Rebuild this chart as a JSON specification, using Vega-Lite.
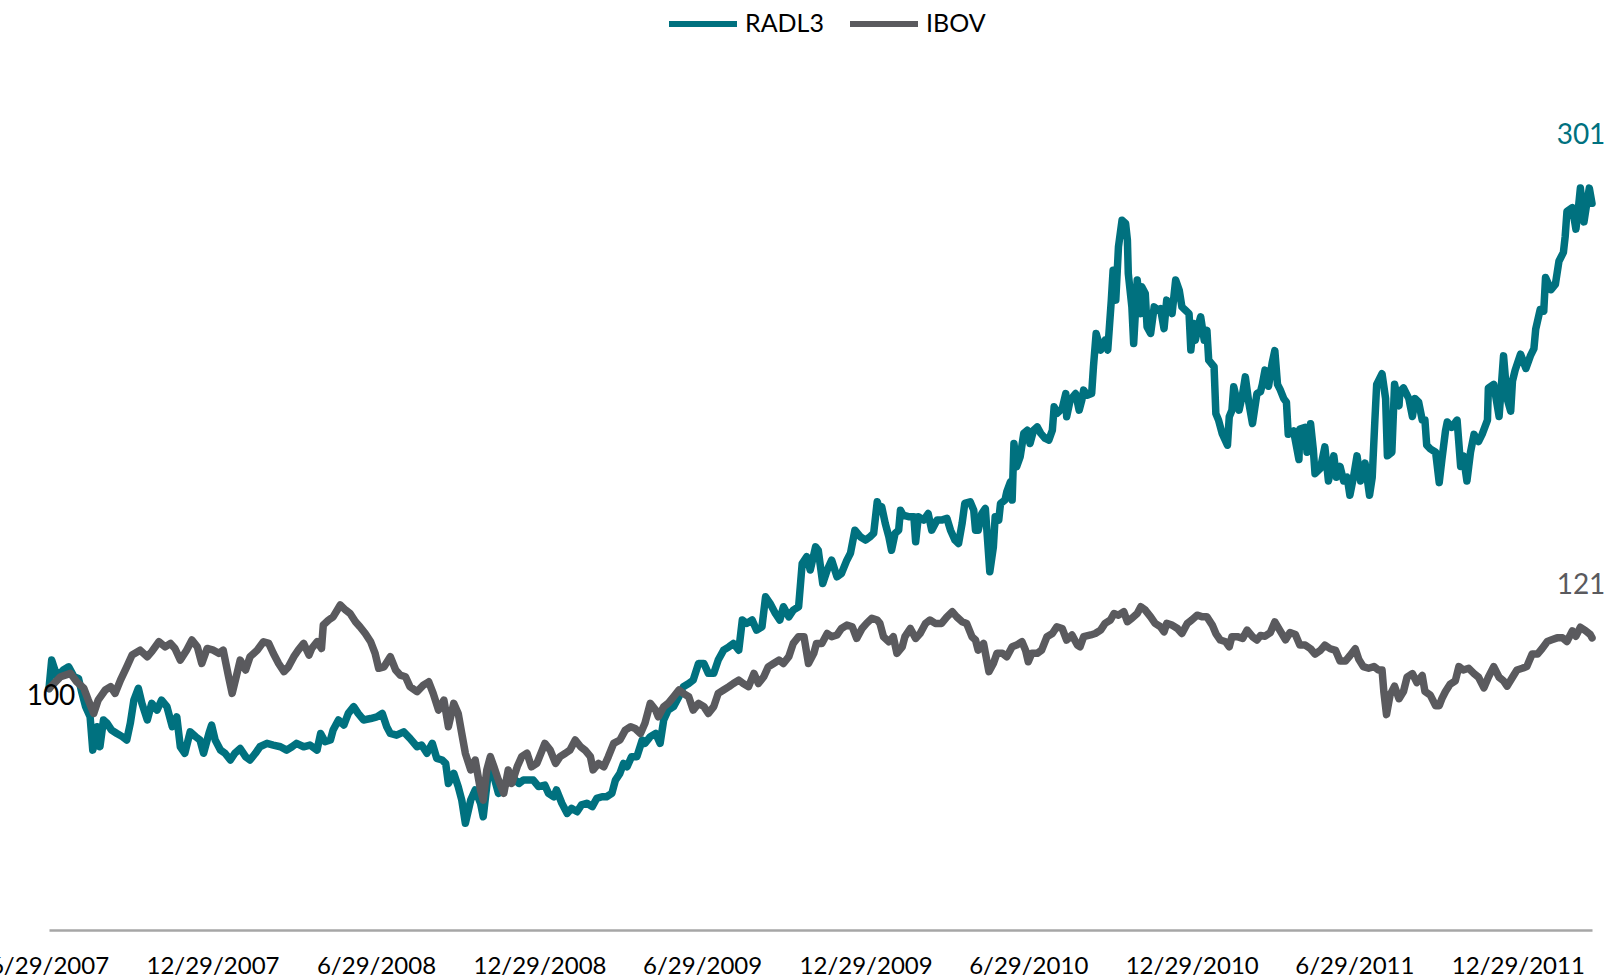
{
  "$schema": "https://vega.github.io/schema/vega-lite/v6.json",
  "autosize": {"type": "none"},
  "padding": {"left": 49, "top": 85, "right": 16, "bottom": 49},
  "width": 1543,
  "height": 845,
  "background": "white",
  "config": {"view": {"stroke": null}, "font": "Lato"},
  "datasets": {
    "radl3": [
      {"date":"2007-06-29","value":100},{"date":"2007-07-02","value":111.8},{"date":"2007-07-08","value":104.9},{"date":"2007-07-15","value":107.7},{"date":"2007-07-21","value":109.0},{"date":"2007-07-27","value":104.9},{"date":"2007-08-01","value":104.2},{"date":"2007-08-05","value":98.0},{"date":"2007-08-09","value":92.5},{"date":"2007-08-14","value":88.3},{"date":"2007-08-17","value":74.5},{"date":"2007-08-22","value":84.2},{"date":"2007-08-25","value":75.9},{"date":"2007-08-29","value":87.0},{"date":"2007-09-02","value":85.6},{"date":"2007-09-07","value":82.8},{"date":"2007-09-13","value":81.4},{"date":"2007-09-19","value":80.1},{"date":"2007-09-24","value":78.7},{"date":"2007-09-28","value":85.6},{"date":"2007-10-02","value":95.2},{"date":"2007-10-07","value":100.1},{"date":"2007-10-11","value":93.9},{"date":"2007-10-17","value":87.0},{"date":"2007-10-22","value":93.9},{"date":"2007-10-28","value":91.1},{"date":"2007-11-02","value":95.2},{"date":"2007-11-08","value":92.5},{"date":"2007-11-14","value":84.2},{"date":"2007-11-19","value":88.3},{"date":"2007-11-23","value":75.9},{"date":"2007-11-28","value":73.2},{"date":"2007-12-04","value":82.1},{"date":"2007-12-10","value":80.1},{"date":"2007-12-15","value":78.7},{"date":"2007-12-19","value":73.2},{"date":"2007-12-25","value":81.4},{"date":"2007-12-28","value":84.9},
      {"date":"2008-01-01","value":78.7},{"date":"2008-01-07","value":74.5},{"date":"2008-01-12","value":73.2},{"date":"2008-01-18","value":70.4},{"date":"2008-01-23","value":73.2},{"date":"2008-01-29","value":75.2},{"date":"2008-02-04","value":71.8},{"date":"2008-02-09","value":70.4},{"date":"2008-02-15","value":73.2},{"date":"2008-02-20","value":75.9},{"date":"2008-02-28","value":77.3},{"date":"2008-03-06","value":76.6},{"date":"2008-03-14","value":75.9},{"date":"2008-03-21","value":74.5},{"date":"2008-03-27","value":75.9},{"date":"2008-04-01","value":77.3},{"date":"2008-04-09","value":75.9},{"date":"2008-04-16","value":76.6},{"date":"2008-04-24","value":74.5},{"date":"2008-04-28","value":81.4},{"date":"2008-05-03","value":78.0},{"date":"2008-05-09","value":78.7},{"date":"2008-05-12","value":82.8},{"date":"2008-05-18","value":87.0},{"date":"2008-05-24","value":84.9},{"date":"2008-05-29","value":89.7},{"date":"2008-06-04","value":92.5},{"date":"2008-06-09","value":89.7},{"date":"2008-06-15","value":87.0},{"date":"2008-06-23","value":87.6},{"date":"2008-06-30","value":88.3},{"date":"2008-07-06","value":89.7},{"date":"2008-07-11","value":84.2},{"date":"2008-07-15","value":81.4},{"date":"2008-07-22","value":80.7},{"date":"2008-07-30","value":82.1},{"date":"2008-08-06","value":79.4},{"date":"2008-08-14","value":75.9},{"date":"2008-08-19","value":76.6},{"date":"2008-08-25","value":73.2},{"date":"2008-08-31","value":77.3},{"date":"2008-09-05","value":71.1},{"date":"2008-09-11","value":70.4},{"date":"2008-09-15","value":69.0},{"date":"2008-09-18","value":60.7},{"date":"2008-09-24","value":64.9},{"date":"2008-09-29","value":59.4},{"date":"2008-10-03","value":53.8},{"date":"2008-10-07","value":44.2},{"date":"2008-10-13","value":53.8},{"date":"2008-10-18","value":58.0},{"date":"2008-10-24","value":52.5},{"date":"2008-10-27","value":46.9},{"date":"2008-11-02","value":66.3},{"date":"2008-11-08","value":63.5},{"date":"2008-11-13","value":56.6},{"date":"2008-11-19","value":60.7},{"date":"2008-11-24","value":62.1},{"date":"2008-11-30","value":62.8},{"date":"2008-12-06","value":60.7},{"date":"2008-12-11","value":62.1},{"date":"2008-12-17","value":62.1},{"date":"2008-12-22","value":62.1},{"date":"2008-12-28","value":59.4},
      {"date":"2009-01-04","value":60.0},{"date":"2009-01-08","value":56.6},{"date":"2009-01-14","value":55.2},{"date":"2009-01-17","value":58.0},{"date":"2009-01-23","value":52.5},{"date":"2009-01-29","value":48.3},{"date":"2009-02-03","value":50.4},{"date":"2009-02-09","value":49.0},{"date":"2009-02-14","value":51.8},{"date":"2009-02-20","value":52.5},{"date":"2009-02-26","value":51.1},{"date":"2009-03-03","value":54.5},{"date":"2009-03-09","value":55.2},{"date":"2009-03-14","value":55.2},{"date":"2009-03-20","value":56.6},{"date":"2009-03-24","value":62.1},{"date":"2009-03-29","value":64.9},{"date":"2009-04-02","value":69.0},{"date":"2009-04-06","value":67.6},{"date":"2009-04-11","value":71.8},{"date":"2009-04-17","value":71.8},{"date":"2009-04-23","value":78.7},{"date":"2009-04-26","value":77.3},{"date":"2009-05-02","value":80.1},{"date":"2009-05-08","value":81.4},{"date":"2009-05-13","value":77.3},{"date":"2009-05-17","value":87.0},{"date":"2009-05-22","value":91.1},{"date":"2009-05-28","value":92.5},{"date":"2009-06-03","value":96.6},{"date":"2009-06-08","value":100.8},{"date":"2009-06-14","value":102.1},{"date":"2009-06-19","value":103.5},{"date":"2009-06-25","value":110.4},{"date":"2009-07-01","value":110.4},{"date":"2009-07-06","value":106.3},{"date":"2009-07-12","value":106.3},{"date":"2009-07-17","value":111.8},{"date":"2009-07-23","value":115.9},{"date":"2009-07-29","value":117.3},{"date":"2009-08-03","value":118.7},{"date":"2009-08-09","value":115.9},{"date":"2009-08-13","value":128.4},{"date":"2009-08-18","value":127.0},{"date":"2009-08-24","value":128.4},{"date":"2009-08-29","value":124.2},{"date":"2009-09-04","value":125.6},{"date":"2009-09-08","value":138.0},{"date":"2009-09-13","value":135.3},{"date":"2009-09-19","value":131.1},{"date":"2009-09-24","value":128.4},{"date":"2009-09-28","value":133.9},{"date":"2009-10-04","value":129.7},{"date":"2009-10-09","value":132.5},{"date":"2009-10-15","value":133.9},{"date":"2009-10-19","value":151.8},{"date":"2009-10-24","value":154.6},{"date":"2009-10-28","value":149.1},{"date":"2009-11-03","value":158.7},{"date":"2009-11-06","value":157.3},{"date":"2009-11-11","value":143.5},{"date":"2009-11-16","value":149.1},{"date":"2009-11-21","value":153.2},{"date":"2009-11-27","value":146.3},{"date":"2009-12-02","value":147.7},{"date":"2009-12-08","value":153.2},{"date":"2009-12-12","value":156.0},{"date":"2009-12-17","value":165.6},{"date":"2009-12-23","value":162.9},{"date":"2009-12-29","value":161.5},
      {"date":"2010-01-03","value":162.9},{"date":"2010-01-07","value":164.3},{"date":"2010-01-11","value":177.4},{"date":"2010-01-14","value":173.9},{"date":"2010-01-16","value":175.3},{"date":"2010-01-20","value":168.4},{"date":"2010-01-24","value":162.9},{"date":"2010-01-27","value":157.3},{"date":"2010-01-31","value":164.3},{"date":"2010-02-04","value":165.6},{"date":"2010-02-06","value":173.9},{"date":"2010-02-09","value":171.8},{"date":"2010-02-15","value":171.2},{"date":"2010-02-21","value":171.2},{"date":"2010-02-23","value":160.8},{"date":"2010-02-26","value":171.2},{"date":"2010-03-04","value":169.8},{"date":"2010-03-09","value":172.5},{"date":"2010-03-13","value":165.6},{"date":"2010-03-19","value":169.8},{"date":"2010-03-24","value":169.8},{"date":"2010-03-30","value":170.5},{"date":"2010-04-03","value":165.6},{"date":"2010-04-08","value":161.5},{"date":"2010-04-12","value":160.1},{"date":"2010-04-16","value":168.4},{"date":"2010-04-19","value":176.7},{"date":"2010-04-25","value":177.4},{"date":"2010-04-29","value":173.9},{"date":"2010-05-01","value":165.6},{"date":"2010-05-04","value":165.6},{"date":"2010-05-08","value":172.5},{"date":"2010-05-12","value":174.6},{"date":"2010-05-17","value":148.4},{"date":"2010-05-21","value":158.7},{"date":"2010-05-23","value":171.2},{"date":"2010-05-27","value":169.8},{"date":"2010-05-29","value":176.7},{"date":"2010-06-03","value":178.1},{"date":"2010-06-05","value":181.5},{"date":"2010-06-09","value":185.6},{"date":"2010-06-11","value":178.1},{"date":"2010-06-13","value":201.5},{"date":"2010-06-16","value":191.9},{"date":"2010-06-20","value":196.0},{"date":"2010-06-24","value":205.7},{"date":"2010-06-28","value":207.0},{"date":"2010-07-01","value":201.5},{"date":"2010-07-05","value":207.0},{"date":"2010-07-09","value":208.4},{"date":"2010-07-13","value":205.7},{"date":"2010-07-18","value":203.6},{"date":"2010-07-22","value":202.9},{"date":"2010-07-26","value":207.0},{"date":"2010-07-28","value":216.7},{"date":"2010-07-31","value":213.9},{"date":"2010-08-06","value":216.0},{"date":"2010-08-10","value":222.2},{"date":"2010-08-11","value":212.6},{"date":"2010-08-15","value":219.5},{"date":"2010-08-21","value":222.2},{"date":"2010-08-25","value":215.3},{"date":"2010-08-28","value":219.5},{"date":"2010-08-30","value":223.6},{"date":"2010-09-03","value":221.5},{"date":"2010-09-08","value":222.2},{"date":"2010-09-10","value":233.3},{"date":"2010-09-13","value":247.1},{"date":"2010-09-18","value":240.2},{"date":"2010-09-23","value":244.3},{"date":"2010-09-26","value":240.2},{"date":"2010-09-30","value":260.9},{"date":"2010-10-02","value":273.3},{"date":"2010-10-05","value":260.9},{"date":"2010-10-08","value":283.0},{"date":"2010-10-12","value":294.0},{"date":"2010-10-16","value":292.6},{"date":"2010-10-18","value":285.7},{"date":"2010-10-19","value":271.9},{"date":"2010-10-23","value":258.1},{"date":"2010-10-25","value":242.9},{"date":"2010-10-29","value":269.2},{"date":"2010-11-02","value":255.3},{"date":"2010-11-03","value":266.4},{"date":"2010-11-07","value":263.6},{"date":"2010-11-09","value":249.8},{"date":"2010-11-13","value":247.1},{"date":"2010-11-17","value":258.1},{"date":"2010-11-20","value":256.7},{"date":"2010-11-24","value":257.4},{"date":"2010-11-28","value":249.1},{"date":"2010-12-01","value":260.9},{"date":"2010-12-07","value":255.3},{"date":"2010-12-11","value":269.2},{"date":"2010-12-15","value":265.0},{"date":"2010-12-18","value":258.1},{"date":"2010-12-22","value":256.7},{"date":"2010-12-26","value":255.3},{"date":"2010-12-28","value":240.2},{"date":"2010-12-31","value":251.2},
      {"date":"2011-01-02","value":244.3},{"date":"2011-01-06","value":251.2},{"date":"2011-01-08","value":254.0},{"date":"2011-01-12","value":244.3},{"date":"2011-01-15","value":248.4},{"date":"2011-01-17","value":236.0},{"date":"2011-01-23","value":233.3},{"date":"2011-01-25","value":213.9},{"date":"2011-01-28","value":211.2},{"date":"2011-02-01","value":205.7},{"date":"2011-02-07","value":200.8},{"date":"2011-02-09","value":212.6},{"date":"2011-02-12","value":215.3},{"date":"2011-02-14","value":225.0},{"date":"2011-02-20","value":215.3},{"date":"2011-02-24","value":222.2},{"date":"2011-02-27","value":229.1},{"date":"2011-03-03","value":218.1},{"date":"2011-03-07","value":209.8},{"date":"2011-03-12","value":222.2},{"date":"2011-03-16","value":223.0},{"date":"2011-03-18","value":226.0},{"date":"2011-03-21","value":231.9},{"date":"2011-03-25","value":225.2},{"date":"2011-03-29","value":234.8},{"date":"2011-04-01","value":240.0},{"date":"2011-04-04","value":226.0},{"date":"2011-04-07","value":223.8},{"date":"2011-04-11","value":220.1},{"date":"2011-04-14","value":218.6},{"date":"2011-04-16","value":205.3},{"date":"2011-04-22","value":206.7},{"date":"2011-04-28","value":194.9},{"date":"2011-04-29","value":207.5},{"date":"2011-05-05","value":208.2},{"date":"2011-05-07","value":197.9},{"date":"2011-05-11","value":209.7},{"date":"2011-05-14","value":199.3},{"date":"2011-05-16","value":189.0},{"date":"2011-05-22","value":191.2},{"date":"2011-05-27","value":200.1},{"date":"2011-05-31","value":186.0},{"date":"2011-06-06","value":196.4},{"date":"2011-06-09","value":187.5},{"date":"2011-06-13","value":192.0},{"date":"2011-06-17","value":186.0},{"date":"2011-06-21","value":187.5},{"date":"2011-06-24","value":180.1},{"date":"2011-06-28","value":187.5},{"date":"2011-07-02","value":196.4},{"date":"2011-07-06","value":186.0},{"date":"2011-07-11","value":193.4},{"date":"2011-07-16","value":180.1},{"date":"2011-07-19","value":187.5},{"date":"2011-07-22","value":211.2},{"date":"2011-07-24","value":226.0},{"date":"2011-07-30","value":230.4},{"date":"2011-08-03","value":220.1},{"date":"2011-08-05","value":196.4},{"date":"2011-08-10","value":197.9},{"date":"2011-08-13","value":226.0},{"date":"2011-08-18","value":217.1},{"date":"2011-08-19","value":223.0},{"date":"2011-08-23","value":224.5},{"date":"2011-08-29","value":220.1},{"date":"2011-09-02","value":212.7},{"date":"2011-09-05","value":220.1},{"date":"2011-09-09","value":218.6},{"date":"2011-09-13","value":211.2},{"date":"2011-09-16","value":211.2},{"date":"2011-09-18","value":200.8},{"date":"2011-09-22","value":199.3},{"date":"2011-09-28","value":197.9},{"date":"2011-10-02","value":185.3},{"date":"2011-10-05","value":194.9},{"date":"2011-10-09","value":206.7},{"date":"2011-10-11","value":210.4},{"date":"2011-10-16","value":208.2},{"date":"2011-10-22","value":211.2},{"date":"2011-10-26","value":192.0},{"date":"2011-10-29","value":196.4},{"date":"2011-11-02","value":186.0},{"date":"2011-11-06","value":197.9},{"date":"2011-11-10","value":205.3},{"date":"2011-11-15","value":202.3},{"date":"2011-11-19","value":205.3},{"date":"2011-11-25","value":211.2},{"date":"2011-11-26","value":224.5},{"date":"2011-12-02","value":226.0},{"date":"2011-12-08","value":212.7},{"date":"2011-12-13","value":237.8},{"date":"2011-12-17","value":220.1},{"date":"2011-12-21","value":214.9},{"date":"2011-12-23","value":227.4},{"date":"2011-12-26","value":231.9},
      {"date":"2012-01-01","value":238.5},{"date":"2012-01-07","value":232.6},{"date":"2012-01-12","value":237.8},{"date":"2012-01-16","value":240.8},{"date":"2012-01-18","value":248.9},{"date":"2012-01-23","value":257.0},{"date":"2012-01-27","value":256.3},{"date":"2012-01-29","value":270.3},{"date":"2012-02-04","value":265.2},{"date":"2012-02-09","value":267.4},{"date":"2012-02-13","value":277.0},{"date":"2012-02-18","value":280.7},{"date":"2012-02-20","value":287.3},{"date":"2012-02-22","value":297.7},{"date":"2012-02-28","value":299.2},{"date":"2012-03-03","value":290.3},{"date":"2012-03-06","value":299.9},{"date":"2012-03-08","value":307.3},{"date":"2012-03-12","value":293.3},{"date":"2012-03-16","value":302.9},{"date":"2012-03-18","value":307.3},{"date":"2012-03-21","value":301.0}
    ],
    "ibov": [
      {"date":"2007-06-29","value":100},{"date":"2007-07-12","value":104.9},{"date":"2007-07-23","value":106.3},{"date":"2007-07-30","value":102.8},{"date":"2007-08-07","value":100.1},{"date":"2007-08-12","value":95.2},{"date":"2007-08-18","value":89.7},{"date":"2007-08-23","value":95.2},{"date":"2007-08-31","value":99.4},{"date":"2007-09-06","value":100.8},{"date":"2007-09-11","value":98.0},{"date":"2007-09-17","value":103.5},{"date":"2007-09-24","value":109.0},{"date":"2007-09-30","value":113.9},{"date":"2007-10-09","value":115.9},{"date":"2007-10-17","value":113.2},{"date":"2007-10-22","value":115.3},{"date":"2007-10-30","value":119.4},{"date":"2007-11-06","value":117.3},{"date":"2007-11-12","value":118.7},{"date":"2007-11-17","value":116.6},{"date":"2007-11-23","value":111.8},{"date":"2007-11-30","value":115.9},{"date":"2007-12-06","value":120.1},{"date":"2007-12-12","value":117.3},{"date":"2007-12-17","value":110.4},{"date":"2007-12-23","value":116.6},{"date":"2007-12-30","value":115.9},
      {"date":"2008-01-05","value":114.6},{"date":"2008-01-10","value":115.9},{"date":"2008-01-16","value":104.9},{"date":"2008-01-20","value":98.0},{"date":"2008-01-25","value":105.6},{"date":"2008-01-29","value":111.8},{"date":"2008-02-04","value":107.7},{"date":"2008-02-09","value":113.2},{"date":"2008-02-17","value":115.9},{"date":"2008-02-24","value":119.4},{"date":"2008-03-01","value":118.7},{"date":"2008-03-06","value":114.6},{"date":"2008-03-12","value":110.4},{"date":"2008-03-18","value":107.0},{"date":"2008-03-23","value":109.0},{"date":"2008-03-29","value":113.2},{"date":"2008-04-03","value":115.9},{"date":"2008-04-09","value":118.7},{"date":"2008-04-15","value":113.9},{"date":"2008-04-18","value":116.6},{"date":"2008-04-24","value":119.4},{"date":"2008-04-29","value":116.6},{"date":"2008-05-01","value":126.3},{"date":"2008-05-07","value":128.4},{"date":"2008-05-12","value":129.7},{"date":"2008-05-20","value":134.6},{"date":"2008-05-26","value":132.5},{"date":"2008-05-31","value":131.1},{"date":"2008-06-06","value":127.7},{"date":"2008-06-11","value":125.6},{"date":"2008-06-17","value":122.8},{"date":"2008-06-23","value":119.4},{"date":"2008-06-28","value":114.6},{"date":"2008-07-02","value":108.4},{"date":"2008-07-08","value":109.0},{"date":"2008-07-15","value":113.2},{"date":"2008-07-21","value":107.7},{"date":"2008-07-26","value":105.6},{"date":"2008-08-01","value":104.9},{"date":"2008-08-06","value":100.8},{"date":"2008-08-14","value":98.7},{"date":"2008-08-21","value":101.4},{"date":"2008-08-27","value":102.8},{"date":"2008-09-01","value":98.0},{"date":"2008-09-07","value":91.1},{"date":"2008-09-13","value":95.2},{"date":"2008-09-18","value":84.2},{"date":"2008-09-24","value":93.9},{"date":"2008-09-29","value":89.7},{"date":"2008-10-03","value":81.4},{"date":"2008-10-07","value":73.2},{"date":"2008-10-13","value":66.3},{"date":"2008-10-18","value":70.4},{"date":"2008-10-24","value":58.0},{"date":"2008-10-27","value":53.8},{"date":"2008-10-31","value":66.3},{"date":"2008-11-04","value":71.8},{"date":"2008-11-08","value":67.6},{"date":"2008-11-13","value":62.1},{"date":"2008-11-19","value":56.6},{"date":"2008-11-24","value":66.3},{"date":"2008-11-28","value":60.7},{"date":"2008-12-04","value":67.6},{"date":"2008-12-09","value":71.8},{"date":"2008-12-15","value":73.2},{"date":"2008-12-20","value":67.6},{"date":"2008-12-26","value":69.0},
      {"date":"2009-01-01","value":74.5},{"date":"2009-01-04","value":77.3},{"date":"2009-01-10","value":74.5},{"date":"2009-01-16","value":69.0},{"date":"2009-01-21","value":71.8},{"date":"2009-01-27","value":73.2},{"date":"2009-02-01","value":74.5},{"date":"2009-02-07","value":78.7},{"date":"2009-02-13","value":75.9},{"date":"2009-02-18","value":74.5},{"date":"2009-02-24","value":71.8},{"date":"2009-02-27","value":66.3},{"date":"2009-03-05","value":69.0},{"date":"2009-03-11","value":67.6},{"date":"2009-03-16","value":71.8},{"date":"2009-03-22","value":77.3},{"date":"2009-03-29","value":78.7},{"date":"2009-04-04","value":82.8},{"date":"2009-04-10","value":84.2},{"date":"2009-04-15","value":83.5},{"date":"2009-04-21","value":81.4},{"date":"2009-04-26","value":85.6},{"date":"2009-05-02","value":93.9},{"date":"2009-05-08","value":91.1},{"date":"2009-05-11","value":88.3},{"date":"2009-05-17","value":92.5},{"date":"2009-05-22","value":93.9},{"date":"2009-05-28","value":96.6},{"date":"2009-06-03","value":99.4},{"date":"2009-06-08","value":98.0},{"date":"2009-06-14","value":96.6},{"date":"2009-06-19","value":91.1},{"date":"2009-06-25","value":93.9},{"date":"2009-07-01","value":92.5},{"date":"2009-07-06","value":89.7},{"date":"2009-07-12","value":92.5},{"date":"2009-07-17","value":98.0},{"date":"2009-07-23","value":99.4},{"date":"2009-07-29","value":100.8},{"date":"2009-08-03","value":102.1},{"date":"2009-08-09","value":103.5},{"date":"2009-08-14","value":102.1},{"date":"2009-08-20","value":100.8},{"date":"2009-08-26","value":106.3},{"date":"2009-08-31","value":102.1},{"date":"2009-09-06","value":104.9},{"date":"2009-09-11","value":109.0},{"date":"2009-09-17","value":110.4},{"date":"2009-09-23","value":111.8},{"date":"2009-09-28","value":110.4},{"date":"2009-10-04","value":113.2},{"date":"2009-10-09","value":118.7},{"date":"2009-10-15","value":121.5},{"date":"2009-10-21","value":121.5},{"date":"2009-10-26","value":110.4},{"date":"2009-11-01","value":114.6},{"date":"2009-11-04","value":118.7},{"date":"2009-11-10","value":118.7},{"date":"2009-11-16","value":122.8},{"date":"2009-11-21","value":121.5},{"date":"2009-11-27","value":122.2},{"date":"2009-12-02","value":124.9},{"date":"2009-12-08","value":126.3},{"date":"2009-12-14","value":125.6},{"date":"2009-12-19","value":120.8},{"date":"2009-12-25","value":124.9},{"date":"2009-12-30","value":127.0},
      {"date":"2010-01-05","value":129.1},{"date":"2010-01-11","value":128.4},{"date":"2010-01-14","value":127.0},{"date":"2010-01-18","value":121.5},{"date":"2010-01-24","value":119.4},{"date":"2010-01-29","value":121.5},{"date":"2010-02-02","value":114.6},{"date":"2010-02-08","value":117.3},{"date":"2010-02-11","value":121.5},{"date":"2010-02-17","value":124.9},{"date":"2010-02-23","value":120.8},{"date":"2010-02-28","value":122.8},{"date":"2010-03-06","value":127.0},{"date":"2010-03-11","value":128.4},{"date":"2010-03-17","value":127.0},{"date":"2010-03-24","value":127.0},{"date":"2010-03-30","value":129.7},{"date":"2010-04-05","value":131.8},{"date":"2010-04-10","value":129.7},{"date":"2010-04-16","value":127.7},{"date":"2010-04-21","value":127.0},{"date":"2010-04-27","value":121.5},{"date":"2010-05-01","value":120.1},{"date":"2010-05-04","value":115.9},{"date":"2010-05-10","value":118.7},{"date":"2010-05-16","value":107.0},{"date":"2010-05-21","value":110.4},{"date":"2010-05-25","value":114.6},{"date":"2010-05-31","value":114.6},{"date":"2010-06-05","value":113.2},{"date":"2010-06-11","value":117.3},{"date":"2010-06-16","value":118.0},{"date":"2010-06-22","value":119.4},{"date":"2010-06-26","value":115.9},{"date":"2010-06-29","value":111.1},{"date":"2010-07-03","value":114.6},{"date":"2010-07-09","value":114.6},{"date":"2010-07-14","value":115.9},{"date":"2010-07-20","value":121.5},{"date":"2010-07-26","value":122.8},{"date":"2010-07-31","value":125.6},{"date":"2010-08-06","value":124.9},{"date":"2010-08-11","value":120.1},{"date":"2010-08-17","value":122.2},{"date":"2010-08-23","value":118.0},{"date":"2010-08-26","value":117.3},{"date":"2010-08-30","value":121.5},{"date":"2010-09-07","value":122.2},{"date":"2010-09-12","value":122.8},{"date":"2010-09-18","value":124.2},{"date":"2010-09-23","value":127.0},{"date":"2010-09-29","value":128.4},{"date":"2010-10-03","value":131.1},{"date":"2010-10-08","value":130.4},{"date":"2010-10-14","value":131.8},{"date":"2010-10-18","value":127.7},{"date":"2010-10-23","value":129.1},{"date":"2010-10-29","value":131.1},{"date":"2010-11-02","value":133.9},{"date":"2010-11-07","value":132.5},{"date":"2010-11-13","value":129.7},{"date":"2010-11-18","value":127.0},{"date":"2010-11-24","value":125.6},{"date":"2010-11-28","value":123.5},{"date":"2010-12-01","value":127.0},{"date":"2010-12-07","value":126.3},{"date":"2010-12-13","value":124.9},{"date":"2010-12-18","value":122.8},{"date":"2010-12-24","value":127.0},{"date":"2010-12-29","value":128.4},
      {"date":"2011-01-04","value":130.4},{"date":"2011-01-10","value":129.7},{"date":"2011-01-15","value":129.7},{"date":"2011-01-21","value":126.3},{"date":"2011-01-25","value":122.8},{"date":"2011-01-30","value":120.1},{"date":"2011-02-05","value":119.4},{"date":"2011-02-09","value":117.3},{"date":"2011-02-12","value":121.5},{"date":"2011-02-18","value":121.5},{"date":"2011-02-24","value":120.8},{"date":"2011-03-01","value":124.2},{"date":"2011-03-07","value":121.5},{"date":"2011-03-12","value":120.1},{"date":"2011-03-16","value":122.0},{"date":"2011-03-21","value":121.7},{"date":"2011-03-27","value":123.2},{"date":"2011-04-01","value":127.6},{"date":"2011-04-07","value":123.9},{"date":"2011-04-13","value":120.2},{"date":"2011-04-18","value":123.2},{"date":"2011-04-24","value":122.4},{"date":"2011-04-29","value":118.0},{"date":"2011-05-05","value":118.0},{"date":"2011-05-11","value":116.5},{"date":"2011-05-16","value":114.3},{"date":"2011-05-22","value":115.8},{"date":"2011-05-27","value":118.0},{"date":"2011-06-02","value":116.5},{"date":"2011-06-08","value":115.8},{"date":"2011-06-13","value":111.4},{"date":"2011-06-19","value":111.4},{"date":"2011-06-24","value":113.6},{"date":"2011-06-30","value":116.5},{"date":"2011-07-04","value":112.1},{"date":"2011-07-09","value":109.1},{"date":"2011-07-15","value":108.4},{"date":"2011-07-21","value":109.1},{"date":"2011-07-26","value":107.7},{"date":"2011-07-30","value":107.7},{"date":"2011-08-01","value":98.8},{"date":"2011-08-04","value":89.2},{"date":"2011-08-08","value":97.3},{"date":"2011-08-13","value":101.0},{"date":"2011-08-18","value":95.8},{"date":"2011-08-23","value":98.8},{"date":"2011-08-27","value":104.7},{"date":"2011-09-02","value":106.2},{"date":"2011-09-07","value":102.5},{"date":"2011-09-13","value":105.4},{"date":"2011-09-16","value":98.8},{"date":"2011-09-22","value":97.3},{"date":"2011-09-28","value":92.9},{"date":"2011-10-02","value":92.9},{"date":"2011-10-05","value":95.8},{"date":"2011-10-09","value":98.8},{"date":"2011-10-14","value":101.7},{"date":"2011-10-20","value":103.2},{"date":"2011-10-24","value":109.1},{"date":"2011-10-29","value":107.7},{"date":"2011-11-04","value":108.4},{"date":"2011-11-10","value":106.2},{"date":"2011-11-15","value":104.7},{"date":"2011-11-21","value":100.3},{"date":"2011-11-26","value":104.7},{"date":"2011-12-02","value":109.1},{"date":"2011-12-08","value":104.7},{"date":"2011-12-13","value":103.2},{"date":"2011-12-17","value":101.0},{"date":"2011-12-23","value":104.7},{"date":"2011-12-28","value":107.7},
      {"date":"2012-01-03","value":108.4},{"date":"2012-01-08","value":109.1},{"date":"2012-01-14","value":114.3},{"date":"2012-01-20","value":114.3},{"date":"2012-01-25","value":116.5},{"date":"2012-01-31","value":119.5},{"date":"2012-02-05","value":120.2},{"date":"2012-02-11","value":121.0},{"date":"2012-02-17","value":121.0},{"date":"2012-02-22","value":119.5},{"date":"2012-02-28","value":123.9},{"date":"2012-03-03","value":121.7},{"date":"2012-03-08","value":125.4},{"date":"2012-03-14","value":123.9},{"date":"2012-03-19","value":122.4},{"date":"2012-03-21","value":121.0}
    ]
  },
  "encoding": {
    "x": {
      "field": "date", "type": "temporal",
      "scale": {"type": "utc", "domain": [{"year": 2007, "month": 6, "date": 29, "utc": true}, {"year": 2012, "month": 3, "date": 21, "utc": true}], "nice": false},
      "axis": {
        "title": null,
        "values": [
          {"year": 2007, "month": 6, "date": 29, "utc": true},
          {"year": 2007, "month": 12, "date": 29, "utc": true},
          {"year": 2008, "month": 6, "date": 29, "utc": true},
          {"year": 2008, "month": 12, "date": 29, "utc": true},
          {"year": 2009, "month": 6, "date": 29, "utc": true},
          {"year": 2009, "month": 12, "date": 29, "utc": true},
          {"year": 2010, "month": 6, "date": 29, "utc": true},
          {"year": 2010, "month": 12, "date": 29, "utc": true},
          {"year": 2011, "month": 6, "date": 29, "utc": true},
          {"year": 2011, "month": 12, "date": 29, "utc": true}
        ],
        "format": "%-m/%-d/%Y",
        "grid": false,
        "ticks": false,
        "domainColor": "#A6A6A6",
        "domainWidth": 2.5,
        "labelFont": "Lato",
        "labelFontSize": 24,
        "labelColor": "#000000",
        "labelPadding": 24,
        "labelOverlap": false,
        "labelBound": false,
        "labelFlush": false
      }
    },
    "y": {
      "field": "value", "type": "quantitative",
      "scale": {"domain": [0, 350], "nice": false, "zero": true},
      "axis": null
    }
  },
  "layer": [
    {
      "data": {"name": "radl3"},
      "mark": {"type": "line", "strokeWidth": 7.5, "strokeJoin": "round", "strokeCap": "round"},
      "encoding": {
        "color": {
          "datum": "RADL3",
          "scale": {"domain": ["RADL3", "IBOV"], "range": ["#00717F", "#5A5A5E"]},
          "legend": {
            "title": null,
            "orient": "none",
            "direction": "horizontal",
            "legendX": 617,
            "legendY": -98,
            "padding": 0,
            "symbolType": "stroke",
            "symbolSize": 4624,
            "symbolStrokeWidth": 6,
            "labelFont": "Lato",
            "labelFontSize": 25,
            "labelColor": "#000000",
            "labelOffset": 5,
            "columnPadding": 14
          }
        }
      }
    },
    {
      "data": {"name": "ibov"},
      "mark": {"type": "line", "strokeWidth": 7.5, "strokeJoin": "round", "strokeCap": "round"},
      "encoding": {"color": {"datum": "IBOV"}}
    },
    {
      "data": {"values": [{"date": "2007-06-29", "value": 100, "label": "100"}]},
      "mark": {"type": "text", "font": "Lato", "fontSize": 28, "color": "#000000", "align": "center", "baseline": "middle", "dx": 2, "dy": 8},
      "encoding": {"text": {"field": "label"}}
    },
    {
      "data": {"values": [{"date": "2012-03-21", "value": 301, "label": "301"}]},
      "mark": {"type": "text", "font": "Lato", "fontSize": 28, "color": "#00717F", "align": "center", "baseline": "middle", "dx": -11, "dy": -67},
      "encoding": {"text": {"field": "label"}}
    },
    {
      "data": {"values": [{"date": "2012-03-21", "value": 121, "label": "121"}]},
      "mark": {"type": "text", "font": "Lato", "fontSize": 28, "color": "#5A5A5E", "align": "center", "baseline": "middle", "dx": -11, "dy": -52},
      "encoding": {"text": {"field": "label"}}
    }
  ]
}
